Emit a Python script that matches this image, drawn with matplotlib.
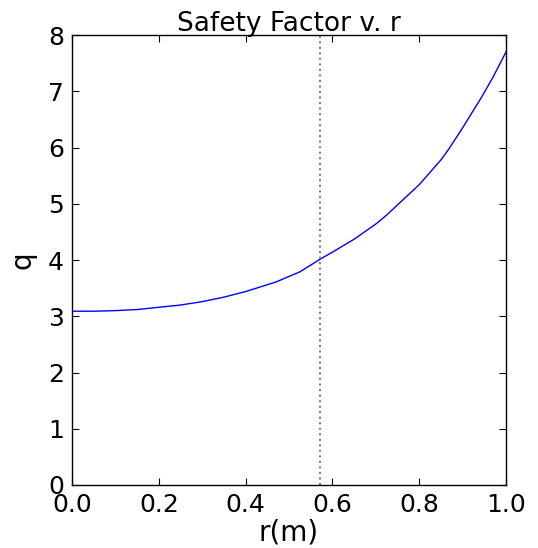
import matplotlib
matplotlib.use("Agg")
import matplotlib.pyplot as plt

# values
r = [0.0, 0.05, 0.1, 0.15, 0.2, 0.25, 0.3, 0.35, 0.4, 0.47, 0.525, 0.575,
     0.6, 0.65, 0.7, 0.725, 0.75, 0.8, 0.85, 0.867, 0.9, 0.944, 0.97, 1.0]
q = [3.09, 3.09, 3.10, 3.12, 3.16, 3.20, 3.26, 3.34, 3.44, 3.61, 3.79, 4.03,
     4.14, 4.37, 4.64, 4.80, 4.98, 5.34, 5.78, 5.96, 6.35, 6.90, 7.25, 7.70]
r_mark = 0.571

fig = plt.figure(figsize=(5.38, 5.48), dpi=100)
ax = fig.add_axes([0.134, 0.115, 0.8065, 0.821])

ax.plot(r, q, color='b', lw=1.0)
ax.axvline(r_mark, color='gray', ls=':', lw=1.5)

ax.set_xlim(0, 1)
ax.set_ylim(0, 8)
ax.set_xticks([0.0, 0.2, 0.4, 0.6, 0.8, 1.0])
ax.set_yticks(range(9))
ax.tick_params(direction='in', top=True, right=True, labelsize=18, length=5, pad=6)
for s in ax.spines.values():
    s.set_linewidth(1.0)

ax.set_title("Safety Factor v. r", fontsize=19, pad=3)
ax.set_xlabel("r(m)", fontsize=20, labelpad=1)
ax.set_ylabel("q", fontsize=20, labelpad=8)

fig.savefig("out.png", dpi=100)
